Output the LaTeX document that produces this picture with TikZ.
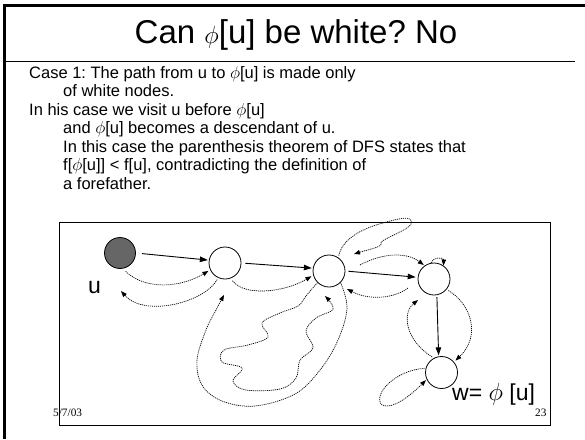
\documentclass[tikz,border=0pt]{standalone}
\usepackage{fontspec}
\setmainfont{Liberation Sans}
\newfontfamily\datefont{Liberation Serif}
\usetikzlibrary{arrows.meta}
\frenchspacing
\begin{document}
\begin{tikzpicture}[x=1pt,y=-1pt,
  vertex/.style={circle,draw,line width=0.8pt,minimum size=32pt,inner sep=0pt,fill=white},
  solidarrow/.style={-{Triangle[length=8pt,width=5.5pt]},line width=0.9pt},
  dotarrow/.style={-{Triangle[length=6pt,width=4.5pt]},line width=0.7pt,dash pattern=on 1.1pt off 0.9pt},
  bodyline/.style={anchor=base west,inner sep=0pt,font=\fontsize{16.5}{18.5}\selectfont},
  biglabel/.style={anchor=base west,inner sep=0pt,font=\fontsize{23}{26}\selectfont},
  smalltext/.style={anchor=base west,inner sep=0pt,font=\datefont\fontsize{11.3}{12}\selectfont}]
\useasboundingbox (0,0) rectangle (585,439);
\fill[white] (0,0) rectangle (585,439);
% slide frame and title rule
\draw[line width=2.5pt] (4.5,439) -- (4.5,5.5) -- (585,5.5);
\draw[line width=1pt] (5,61) -- (575,61);
% title
\node[anchor=base,inner sep=0pt,font=\fontsize{33}{36}\selectfont] (title) at (296,43) {\frenchspacing Can $\phi$[u] be white? No};
% body text
\node[bodyline] (l1) at (29,78) {\frenchspacing Case 1: The path from u to $\phi$[u] is made only};
\node[bodyline] (l2) at (63,96.5) {of white nodes.};
\node[bodyline] (l3) at (29,115) {In his case we visit u before $\phi$[u]};
\node[bodyline] (l4) at (63,133.5) {and $\phi$[u] becomes a descendant of u.};
\node[bodyline] (l5) at (63,152) {In this case the parenthesis theorem of DFS states that};
\node[bodyline] (l6) at (63,170.5) {\frenchspacing f[$\phi$[u]] < f[u], contradicting the definition of};
\node[bodyline] (l7) at (63,189) {a forefather.};
% diagram frame
\draw[line width=1pt] (59,222) rectangle (550,425);
% nodes
\node[vertex,fill=black!60,minimum size=31pt] (u) at (120,253) {};
\node[vertex] (n2) at (225,263) {};
\node[vertex] (n3) at (329,271) {};
\node[vertex] (n4) at (434,279) {};
\node[vertex] (n5) at (441.5,372.5) {};
\node[biglabel] (ulab) at (88,293) {u};
\node[biglabel] (wlab) at (452,400) {w= $\phi$ [u]};
\node[smalltext] (date) at (53,416) {5/7/03};
\node[smalltext] (num) at (535,416) {23};
% free ends
\coordinate (c2end) at (121,291);
\coordinate (c4end) at (224,295);
\coordinate (c5end) at (325,296);
\coordinate (c6end) at (354,254);
\coordinate (c7start) at (360,265);
\coordinate (c8start) at (408,288);
\coordinate (c8end) at (347,289);
\coordinate (c11end) at (418,300);
% solid arrows
\draw[solidarrow,shorten <=6pt,shorten >=1pt] (u.0) -- (n2.170);
\draw[solidarrow,shorten <=4pt,shorten >=1pt] (n2.0) -- (n3.170);
\draw[solidarrow,shorten <=3pt,shorten >=2pt] (n3.0) -- (n4.174);
\draw[solidarrow,shorten <=2pt,shorten >=1pt] (n4.280) -- (n5.100);
% dotted curves
\draw[dotarrow,shorten <=4pt,shorten >=2pt] (u.-80) .. controls (145,290) and (180,288) .. (n2.205);
\draw[dotarrow,shorten <=2pt] (n2.245) .. controls (205,302) and (145,318) .. (c2end);
\draw[dotarrow,shorten <=3pt,shorten >=2pt] (n2.-70) .. controls (245,297) and (285,292) .. (n3.195);
\draw[dotarrow] plot[smooth,tension=0.6] coordinates {(n3.-45) (347,308) (338,340) (320,370) (295,394) (255,406) (222,401) (202,385) (197,360) (206,330) (216,310) (c4end)};
\draw[dotarrow] plot[smooth,tension=0.6] coordinates {(n3.225) (306,296) (298,306) (280,313) (262,323) (268,337) (248,345) (224,350) (222,362) (242,368) (233,381) (246,390) (280,389) (296,378) (300,360) (313,348) (306,331) (316,318) (333,309) (c5end)};
\draw[dotarrow,shorten <=2pt] (n3.55) .. controls (342,240) and (360,229) .. (383,223) .. controls (400,218) and (414,215) .. (411,224) .. controls (408,230) and (389,236) .. (381,242) .. controls (384,247) and (370,249) .. (c6end);
\draw[dotarrow,shorten >=1pt] (c7start) .. controls (380,254) and (405,251) .. (n4.125);
\draw[dotarrow] (c8start) .. controls (395,298) and (370,301) .. (c8end);
\draw[dotarrow] (n4.100) .. controls (432,257) and (444,257) .. (n4.55);
\draw[dotarrow,shorten <=2pt,shorten >=2pt] (n4.-40) .. controls (470,303) and (482,335) .. (n5.40);
\draw[dotarrow,shorten <=2pt] (n5.118) .. controls (405,340) and (402,313) .. (c11end);
\draw[dotarrow,shorten <=1pt,shorten >=1pt] (n5.165) .. controls (395,370) and (372,395) .. (382,405) .. controls (392,410) and (410,396) .. (n5.205);
\end{tikzpicture}
\end{document}
